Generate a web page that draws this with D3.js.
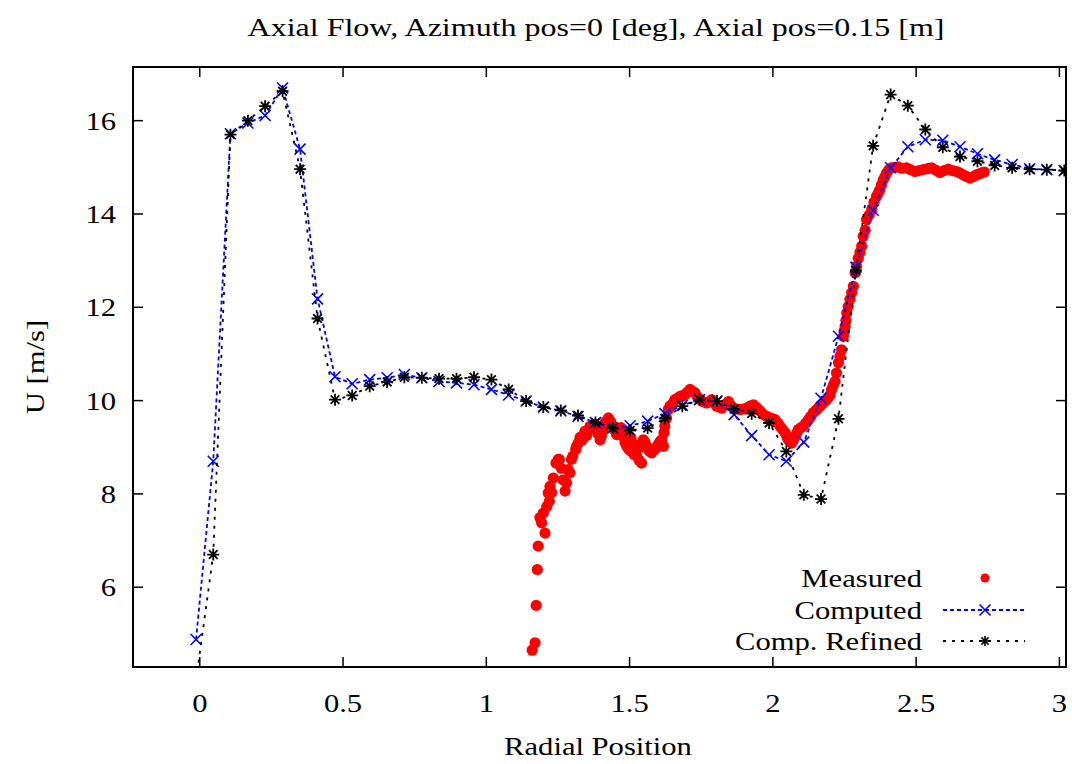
<html><head>
<title>Axial Flow</title>
<script src="https://d3js.org/d3.v7.min.js"></script>
<style>
body { margin: 0; background: #fff; }
svg { display: block; }
text { font-family: 'Liberation Serif', 'Times New Roman', serif; fill: #000; }
</style>
</head>
<body>
<svg id="chart" width="1072" height="764"></svg>
<script>
// chart values
const radialPos = [-0.013, 0.047, 0.107, 0.168, 0.228, 0.289, 0.350, 0.411, 0.472, 0.532,
  0.593, 0.654, 0.714, 0.775, 0.835, 0.896, 0.957, 1.018, 1.078, 1.139,
  1.199, 1.260, 1.320, 1.381, 1.441, 1.502, 1.563, 1.623, 1.684, 1.744,
  1.805, 1.865, 1.926, 1.987, 2.047, 2.108, 2.168, 2.229, 2.290, 2.350,
  2.411, 2.471, 2.532, 2.593, 2.653, 2.714, 2.774, 2.835, 2.896, 2.956, 3.017];

const computed = [4.88, 8.70, 15.72, 15.95, 16.11, 16.70, 15.39, 12.18, 10.51, 10.36,
  10.45, 10.49, 10.56, 10.49, 10.41, 10.38, 10.34, 10.24, 10.12, 9.99,
  9.86, 9.78, 9.66, 9.53, 9.41, 9.46, 9.56, 9.72, 9.90, 10.02,
  9.99, 9.70, 9.25, 8.84, 8.70, 9.11, 10.05, 11.38, 12.86, 14.08,
  14.99, 15.44, 15.59, 15.58, 15.44, 15.29, 15.16, 15.06, 14.97, 14.95, 14.93];

const refined = [4.00, 6.70, 15.70, 16.00, 16.31, 16.63, 14.96, 11.76, 10.02, 10.11,
  10.31, 10.40, 10.50, 10.49, 10.47, 10.47, 10.50, 10.45, 10.24, 9.99,
  9.86, 9.79, 9.68, 9.53, 9.41, 9.36, 9.41, 9.62, 9.88, 10.02,
  9.99, 9.82, 9.72, 9.52, 8.91, 7.98, 7.89, 9.61, 12.79, 15.46,
  16.56, 16.32, 15.81, 15.43, 15.23, 15.13, 15.04, 14.99, 14.96, 14.95, 14.93];

const measuredX = [1.160, 1.170, 1.174, 1.178, 1.181, 1.187, 1.193, 1.199, 1.205, 1.211,
  1.216, 1.220, 1.222, 1.228, 1.234, 1.243, 1.251, 1.255, 1.262, 1.268,
  1.275, 1.280, 1.286, 1.292, 1.297, 1.302, 1.312, 1.315, 1.322, 1.327,
  1.334, 1.344, 1.350, 1.362, 1.370, 1.379, 1.388, 1.397, 1.402, 1.408,
  1.416, 1.426, 1.434, 1.443, 1.450, 1.455, 1.466, 1.470, 1.478, 1.484,
  1.487, 1.490, 1.498, 1.505, 1.507, 1.515, 1.520, 1.525, 1.533, 1.537,
  1.542, 1.548, 1.554, 1.560, 1.568, 1.577, 1.588, 1.594, 1.600, 1.606,
  1.612, 1.618, 1.620, 1.623, 1.629, 1.635, 1.641, 1.652, 1.658, 1.667,
  1.676, 1.684, 1.693, 1.702, 1.711, 1.720, 1.728, 1.737, 1.746, 1.756,
  1.769, 1.778, 1.787, 1.796, 1.804, 1.813, 1.822, 1.834, 1.845, 1.853,
  1.862, 1.874, 1.886, 1.897, 1.909, 1.920, 1.932, 1.941, 1.950, 1.958,
  1.967, 1.979, 1.991, 2.000, 2.008, 2.017, 2.025, 2.034, 2.043, 2.049,
  2.054, 2.060, 2.066, 2.072, 2.077, 2.083, 2.089, 2.098, 2.106, 2.115,
  2.124, 2.132, 2.141, 2.150, 2.158, 2.167, 2.176, 2.185, 2.193, 2.200,
  2.205, 2.211, 2.217, 2.222, 2.229, 2.234, 2.240, 2.246, 2.249, 2.252,
  2.255, 2.258, 2.263, 2.269, 2.275, 2.281, 2.287, 2.292, 2.298, 2.304,
  2.310, 2.315, 2.322, 2.327, 2.336, 2.345, 2.353, 2.362, 2.368, 2.373,
  2.379, 2.385, 2.391, 2.397, 2.405, 2.414, 2.425, 2.437, 2.450, 2.466,
  2.480, 2.496, 2.510, 2.525, 2.540, 2.554, 2.568, 2.583, 2.598, 2.612,
  2.627, 2.641, 2.652, 2.664, 2.676, 2.688, 2.700, 2.711, 2.720, 2.729, 2.738];

const measuredU = [4.65, 4.81, 5.61, 6.38, 6.88, 7.49, 7.38, 7.59, 7.16, 7.73,
  8.02, 7.84, 8.16, 8.03, 8.34, 8.66, 8.74, 8.74, 8.55, 8.30,
  8.06, 8.24, 8.52, 8.45, 8.74, 8.81, 8.95, 9.02, 9.10, 9.21,
  9.15, 9.34, 9.25, 9.45, 9.40, 9.49, 9.30, 9.16, 9.25, 9.38,
  9.55, 9.63, 9.55, 9.45, 9.35, 9.27, 9.30, 9.42, 9.23, 9.10,
  9.32, 9.02, 8.95, 9.20, 8.91, 8.85, 9.05, 8.81, 8.72, 9.00,
  8.66, 9.16, 9.10, 9.02, 8.92, 8.88, 8.95, 9.00, 9.06, 9.12,
  9.16, 9.02, 9.31, 9.45, 9.62, 9.81, 9.88, 9.95, 10.02, 10.05,
  10.09, 10.10, 10.13, 10.18, 10.24, 10.20, 10.17, 10.08, 10.02, 9.98,
  9.95, 9.98, 10.02, 9.95, 9.88, 9.86, 9.84, 9.92, 9.98, 9.90,
  9.84, 9.82, 9.81, 9.82, 9.84, 9.88, 9.91, 9.86, 9.81, 9.76,
  9.70, 9.66, 9.63, 9.61, 9.59, 9.52, 9.45, 9.38, 9.31, 9.22,
  9.16, 9.12, 9.09, 9.15, 9.23, 9.30, 9.38, 9.42, 9.45, 9.52,
  9.59, 9.66, 9.74, 9.79, 9.84, 9.90, 9.95, 10.00, 10.06, 10.12,
  10.24, 10.33, 10.41, 10.59, 10.81, 10.95, 11.09, 11.38, 11.48, 11.59,
  11.72, 11.88, 12.02, 12.17, 12.31, 12.45, 12.74, 12.88, 13.05, 13.18,
  13.31, 13.52, 13.65, 13.88, 13.98, 14.09, 14.25, 14.38, 14.45, 14.52,
  14.62, 14.73, 14.80, 14.88, 14.95, 14.99, 15.00, 15.01, 14.98, 14.99,
  14.95, 14.91, 14.93, 14.95, 14.97, 14.99, 14.94, 14.89, 14.93, 14.96,
  14.93, 14.91, 14.88, 14.84, 14.80, 14.77, 14.80, 14.84, 14.86, 14.88, 14.90];

const xTicks = [0, 0.5, 1, 1.5, 2, 2.5, 3];
const yTicks = [6, 8, 10, 12, 14, 16];
const legendLabels = ['Measured', 'Computed', 'Comp. Refined'];

const svg = d3.select('#chart');
const pLeft = 133, pRight = 1066, pTop = 67, pBottom = 667;
const fs = 25.5;

const x = d3.scaleLinear().domain([-0.233, 3.023]).range([pLeft, pRight]);
const y = d3.scaleLinear().domain([4.29, 17.15]).range([pBottom, pTop]);

// stretched serif text, like the original render
function label(str, tx, ty, anchor, rotate, sx = 1.2) {
  const g = svg.append('g')
    .attr('transform', `translate(${tx},${ty})` + (rotate ? ' rotate(-90)' : '') + ` scale(${sx},1)`);
  g.append('text').attr('text-anchor', anchor).attr('font-size', fs).text(str);
}

svg.append('clipPath').attr('id', 'clip')
  .append('rect').attr('x', pLeft).attr('y', pTop).attr('width', pRight - pLeft).attr('height', pBottom - pTop);

// ticks on all four sides, pointing in
const tl = 10;
xTicks.forEach(t => {
  svg.append('line').attr('x1', x(t)).attr('x2', x(t)).attr('y1', pBottom).attr('y2', pBottom - tl)
    .attr('stroke', '#000').attr('stroke-width', 1.5);
  svg.append('line').attr('x1', x(t)).attr('x2', x(t)).attr('y1', pTop).attr('y2', pTop + tl)
    .attr('stroke', '#000').attr('stroke-width', 1.5);
  label(String(t), x(t), 712, 'middle');
});
yTicks.forEach(t => {
  svg.append('line').attr('x1', pLeft).attr('x2', pLeft + tl).attr('y1', y(t)).attr('y2', y(t))
    .attr('stroke', '#000').attr('stroke-width', 1.5);
  svg.append('line').attr('x1', pRight).attr('x2', pRight - tl).attr('y1', y(t)).attr('y2', y(t))
    .attr('stroke', '#000').attr('stroke-width', 1.5);
  label(String(t), 116, y(t) + 9, 'end');
});

const plot = svg.append('g').attr('clip-path', 'url(#clip)');

// measured
plot.selectAll('circle.meas').data(measuredX).join('circle')
  .attr('class', 'meas')
  .attr('cx', d => x(d))
  .attr('cy', (d, i) => y(measuredU[i]))
  .attr('r', 5.6)
  .attr('fill', '#ff0000');

const line = d3.line().x(d => x(d[0])).y(d => y(d[1]));
const compPts = radialPos.map((r, i) => [r, computed[i]]);
const refPts = radialPos.map((r, i) => [r, refined[i]]);

function crossPath(s) {
  return `M${-s},${-s}L${s},${s}M${-s},${s}L${s},${-s}`;
}
function starPath(s) {
  const d = s * 0.72;
  return `M${-s},0L${s},0M0,${-s}L0,${s}M${-d},${-d}L${d},${d}M${-d},${d}L${d},${-d}`;
}

// computed
plot.append('path').attr('d', line(compPts)).attr('fill', 'none')
  .attr('stroke', '#0000ff').attr('stroke-width', 1.8).attr('stroke-dasharray', '4,3');
plot.selectAll('path.cx').data(compPts).join('path')
  .attr('class', 'cx')
  .attr('transform', d => `translate(${x(d[0])},${y(d[1])})`)
  .attr('d', crossPath(5.5))
  .attr('stroke', '#0000ff').attr('stroke-width', 1.6).attr('fill', 'none');

// refined
plot.append('path').attr('d', line(refPts)).attr('fill', 'none')
  .attr('stroke', '#000').attr('stroke-width', 1.8).attr('stroke-dasharray', '3,6');
plot.selectAll('path.st').data(refPts).join('path')
  .attr('class', 'st')
  .attr('transform', d => `translate(${x(d[0])},${y(d[1])})`)
  .attr('d', starPath(6))
  .attr('stroke', '#000').attr('stroke-width', 1.8).attr('fill', 'none');

// frame
svg.append('rect').attr('x', pLeft).attr('y', pTop).attr('width', pRight - pLeft).attr('height', pBottom - pTop)
  .attr('fill', 'none').attr('stroke', '#000').attr('stroke-width', 2);

// titles
label('Axial Flow, Azimuth pos=0 [deg], Axial pos=0.15 [m]', 596, 36, 'middle', false, 1.255);
label('Radial Position', 598, 755, 'middle');
label('U [m/s]', 44, 367, 'middle', true);

// legend
const legY = [578, 610, 641];
legendLabels.forEach((t, i) => label(t, 922, legY[i] + 9, 'end'));
svg.append('circle').attr('cx', 985).attr('cy', legY[0]).attr('r', 4.5).attr('fill', '#ff0000');
svg.append('line').attr('x1', 943).attr('x2', 1025).attr('y1', legY[1]).attr('y2', legY[1])
  .attr('stroke', '#0000ff').attr('stroke-width', 1.8).attr('stroke-dasharray', '4,3');
svg.append('path').attr('transform', `translate(985,${legY[1]})`).attr('d', crossPath(5.5))
  .attr('stroke', '#0000ff').attr('stroke-width', 1.6);
svg.append('line').attr('x1', 943).attr('x2', 1025).attr('y1', legY[2]).attr('y2', legY[2])
  .attr('stroke', '#000').attr('stroke-width', 1.8).attr('stroke-dasharray', '3,6');
svg.append('path').attr('transform', `translate(985,${legY[2]})`).attr('d', starPath(5))
  .attr('stroke', '#000').attr('stroke-width', 1.6);
</script>
</body></html>
